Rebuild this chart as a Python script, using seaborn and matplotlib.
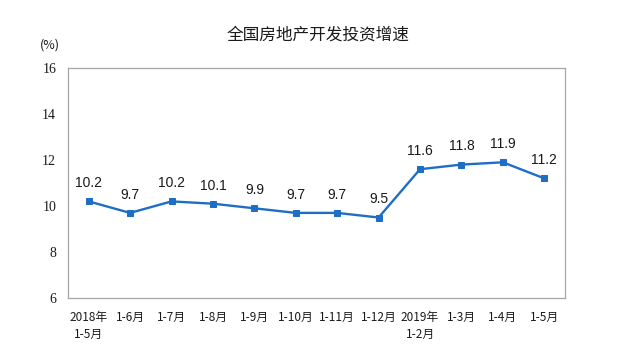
import matplotlib

matplotlib.use("Agg")

import matplotlib.pyplot as plt
from matplotlib.ticker import FixedLocator, MultipleLocator
import numpy as np
import pandas as pd
import seaborn as sns

TITLE = "全国房地产开发投资增速"
CATEGORIES = [
    "2018年\n1-5月", "1-6月", "1-7月", "1-8月", "1-9月", "1-10月",
    "1-11月", "1-12月", "2019年\n1-2月", "1-3月", "1-4月", "1-5月",
]
GROWTH = [10.2, 9.7, 10.2, 10.1, 9.9, 9.7, 9.7, 9.5, 11.6, 11.8, 11.9, 11.2]

LINE = "#1F6EC6"
AXIS = "#A6A6A6"
TEXT = "#1A1A1A"

sns.set_style("white")
plt.rcParams["font.family"] = ["Noto Sans CJK SC", "DejaVu Sans"]

data = pd.DataFrame({"pos": np.arange(len(CATEGORIES)), "value": GROWTH})

fig = plt.figure(figsize=(6.21, 3.58), dpi=100)
ax = fig.add_axes([68 / 621, 60 / 358, 497 / 621, 230 / 358])

sns.lineplot(
    data=data, x="pos", y="value", ax=ax, color=LINE, linewidth=1.7,
    marker="s", markersize=5, markeredgecolor=LINE, legend=False,
)
for x, v in zip(data["pos"], data["value"]):
    ax.annotate(f"{v:.1f}", (x, v), xytext=(0, 8), textcoords="offset points",
                ha="center", va="bottom", fontsize=10, color=TEXT,
                family=["Liberation Sans", "DejaVu Sans"])

ax.set_xlim(-0.5, len(CATEGORIES) - 0.5)
ax.set_ylim(6, 16)
ax.yaxis.set_major_locator(MultipleLocator(2))
ax.xaxis.set_major_locator(FixedLocator(data["pos"]))
ax.set_xticklabels(CATEGORIES, fontsize=8.5, color=TEXT, linespacing=1.4)
ax.xaxis.set_minor_locator(FixedLocator(np.arange(0.5, len(CATEGORIES) - 0.5)))
ax.tick_params(axis="x", which="major", length=0, pad=9)
ax.tick_params(axis="x", which="minor", direction="in", length=4, color=AXIS, width=0.8)
ax.tick_params(axis="y", length=3, direction="inout", color=AXIS, width=0.8,
               labelsize=10, labelcolor=TEXT, pad=7)
for label in ax.get_yticklabels():
    label.set_family(["Liberation Serif", "DejaVu Serif"])
for spine in ax.spines.values():
    spine.set_visible(True)
    spine.set_color(AXIS)
    spine.set_linewidth(0.9)
ax.set_xlabel("")
ax.set_ylabel("")

fig.text(40 / 621, 1 - 45 / 358, "(%)", fontsize=9, color=TEXT, ha="left", va="center")
fig.text(318 / 621, 1 - 35 / 358, TITLE, fontsize=12, color=TEXT, ha="center", va="center")

fig.savefig("out.png", dpi=100)
